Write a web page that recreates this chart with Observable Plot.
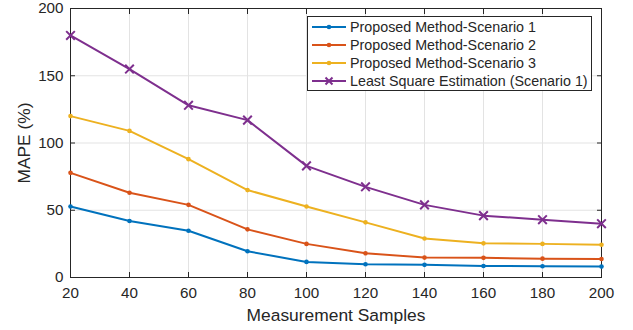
<!DOCTYPE html>
<html>
<head>
<meta charset="utf-8">
<script src="https://cdn.jsdelivr.net/npm/d3@7"></script>
<script src="https://cdn.jsdelivr.net/npm/@observablehq/plot@0.6"></script>
<style>
  body { margin: 0; background: #fff; font-family: "Liberation Sans", Arial, sans-serif; }
  #wrap { position: relative; width: 633px; height: 330px; }
  #chart svg text { font-size: 15.2px; font-family: "Liberation Sans", Arial, sans-serif; fill: #262626; }
  #chart svg g[aria-label$="axis label"] text { font-size: 17.4px; }
  #legend { position: absolute; left: 307px; top: 16px; width: 285px; height: 75px; border: 1px solid #262626; background: #fff; box-sizing: border-box; }
  .row { position: absolute; left: 0; height: 18px; display: flex; align-items: center; font-size: 14.3px; color: #262626; white-space: nowrap; }
  .row svg { margin-left: 4px; margin-right: 4px; }
</style>
</head>
<body>
<div id="wrap"><div id="chart"></div><div id="legend"></div></div>
<script>
const samples = [20, 40, 60, 80, 100, 120, 140, 160, 180, 200];
const seriesNames = [
  "Proposed Method-Scenario 1",
  "Proposed Method-Scenario 2",
  "Proposed Method-Scenario 3",
  "Least Square Estimation (Scenario 1)"
];
const scenario1 = [52.8, 42, 34.8, 19.5, 11.6, 9.9, 9.4, 8.6, 8.4, 8.1];
const scenario2 = [77.8, 63, 54, 35.8, 25, 18, 14.8, 14.6, 14, 13.8];
const scenario3 = [120, 109, 88, 65, 52.8, 41, 29, 25.4, 25, 24.4];
const lse = [180, 155, 128, 117, 83, 67.4, 54, 46, 43, 40];
const colors = ["#0072BD", "#D95319", "#EDB120", "#7E2F8E"];
const xTicks = [20, 40, 60, 80, 100, 120, 140, 160, 180, 200];
const yTicks = [0, 50, 100, 150, 200];

const allSeries = [scenario1, scenario2, scenario3, lse];
const rows = [];
allSeries.forEach((vals, i) => vals.forEach((v, j) => rows.push({series: seriesNames[i], x: samples[j], y: v})));
const dotsRows = rows.filter(r => r.series !== seriesNames[3]);
const lseRows = rows.filter(r => r.series === seriesNames[3]);

const axisColor = "#262626";
const chart = Plot.plot({
  width: 633, height: 330,
  marginTop: 8, marginRight: 32, marginBottom: 53, marginLeft: 70,
  style: {fontFamily: "Liberation Sans, Arial, sans-serif", fontSize: "15.2px", color: axisColor, background: "#fff"},
  x: {domain: [20, 200]},
  y: {domain: [0, 200]},
  color: {domain: seriesNames, range: colors},
  marks: [
    Plot.gridX(xTicks, {stroke: "#e3e3e3", strokeOpacity: 1}),
    Plot.gridY(yTicks, {stroke: "#e3e3e3", strokeOpacity: 1}),
    Plot.axisX(xTicks, {anchor: "bottom", tickSize: -5, tickPadding: 15, label: "Measurement Samples", labelAnchor: "center", labelArrow: "none", labelOffset: 43, stroke: axisColor}),
    Plot.axisX(xTicks, {anchor: "top", tickSize: -5, tickFormat: () => "", label: null, stroke: axisColor}),
    Plot.axisY(yTicks, {anchor: "left", tickSize: -5, tickPadding: 12, label: "MAPE (%)", labelAnchor: "center", labelArrow: "none", labelOffset: 53, stroke: axisColor}),
    Plot.axisY(yTicks, {anchor: "right", tickSize: -5, tickFormat: () => "", label: null, stroke: axisColor}),
    Plot.frame({stroke: axisColor, strokeWidth: 1}),
    Plot.line(rows, {x: "x", y: "y", stroke: "series", z: "series", strokeWidth: 2}),
    Plot.dot(dotsRows, {x: "x", y: "y", fill: "series", r: 2.3}),
    Plot.dot(lseRows, {x: "x", y: "y", stroke: "series", symbol: "times", r: 4, strokeWidth: 2})
  ]
});
document.getElementById("chart").appendChild(chart);

const legend = document.getElementById("legend");
seriesNames.forEach((name, i) => {
  const row = document.createElement("div");
  row.className = "row";
  row.style.top = (1 + i * 18) + "px";
  const marker = i < 3
    ? `<circle cx="17" cy="6" r="2.3" fill="${colors[i]}"/>`
    : `<path d="M13.5,2.5L20.5,9.5M20.5,2.5L13.5,9.5" stroke="${colors[i]}" stroke-width="2"/>`;
  row.innerHTML = `<svg width="34" height="12"><line x1="0" x2="34" y1="6" y2="6" stroke="${colors[i]}" stroke-width="2"/>${marker}</svg><span>${name}</span>`;
  legend.appendChild(row);
});
</script>
</body>
</html>
